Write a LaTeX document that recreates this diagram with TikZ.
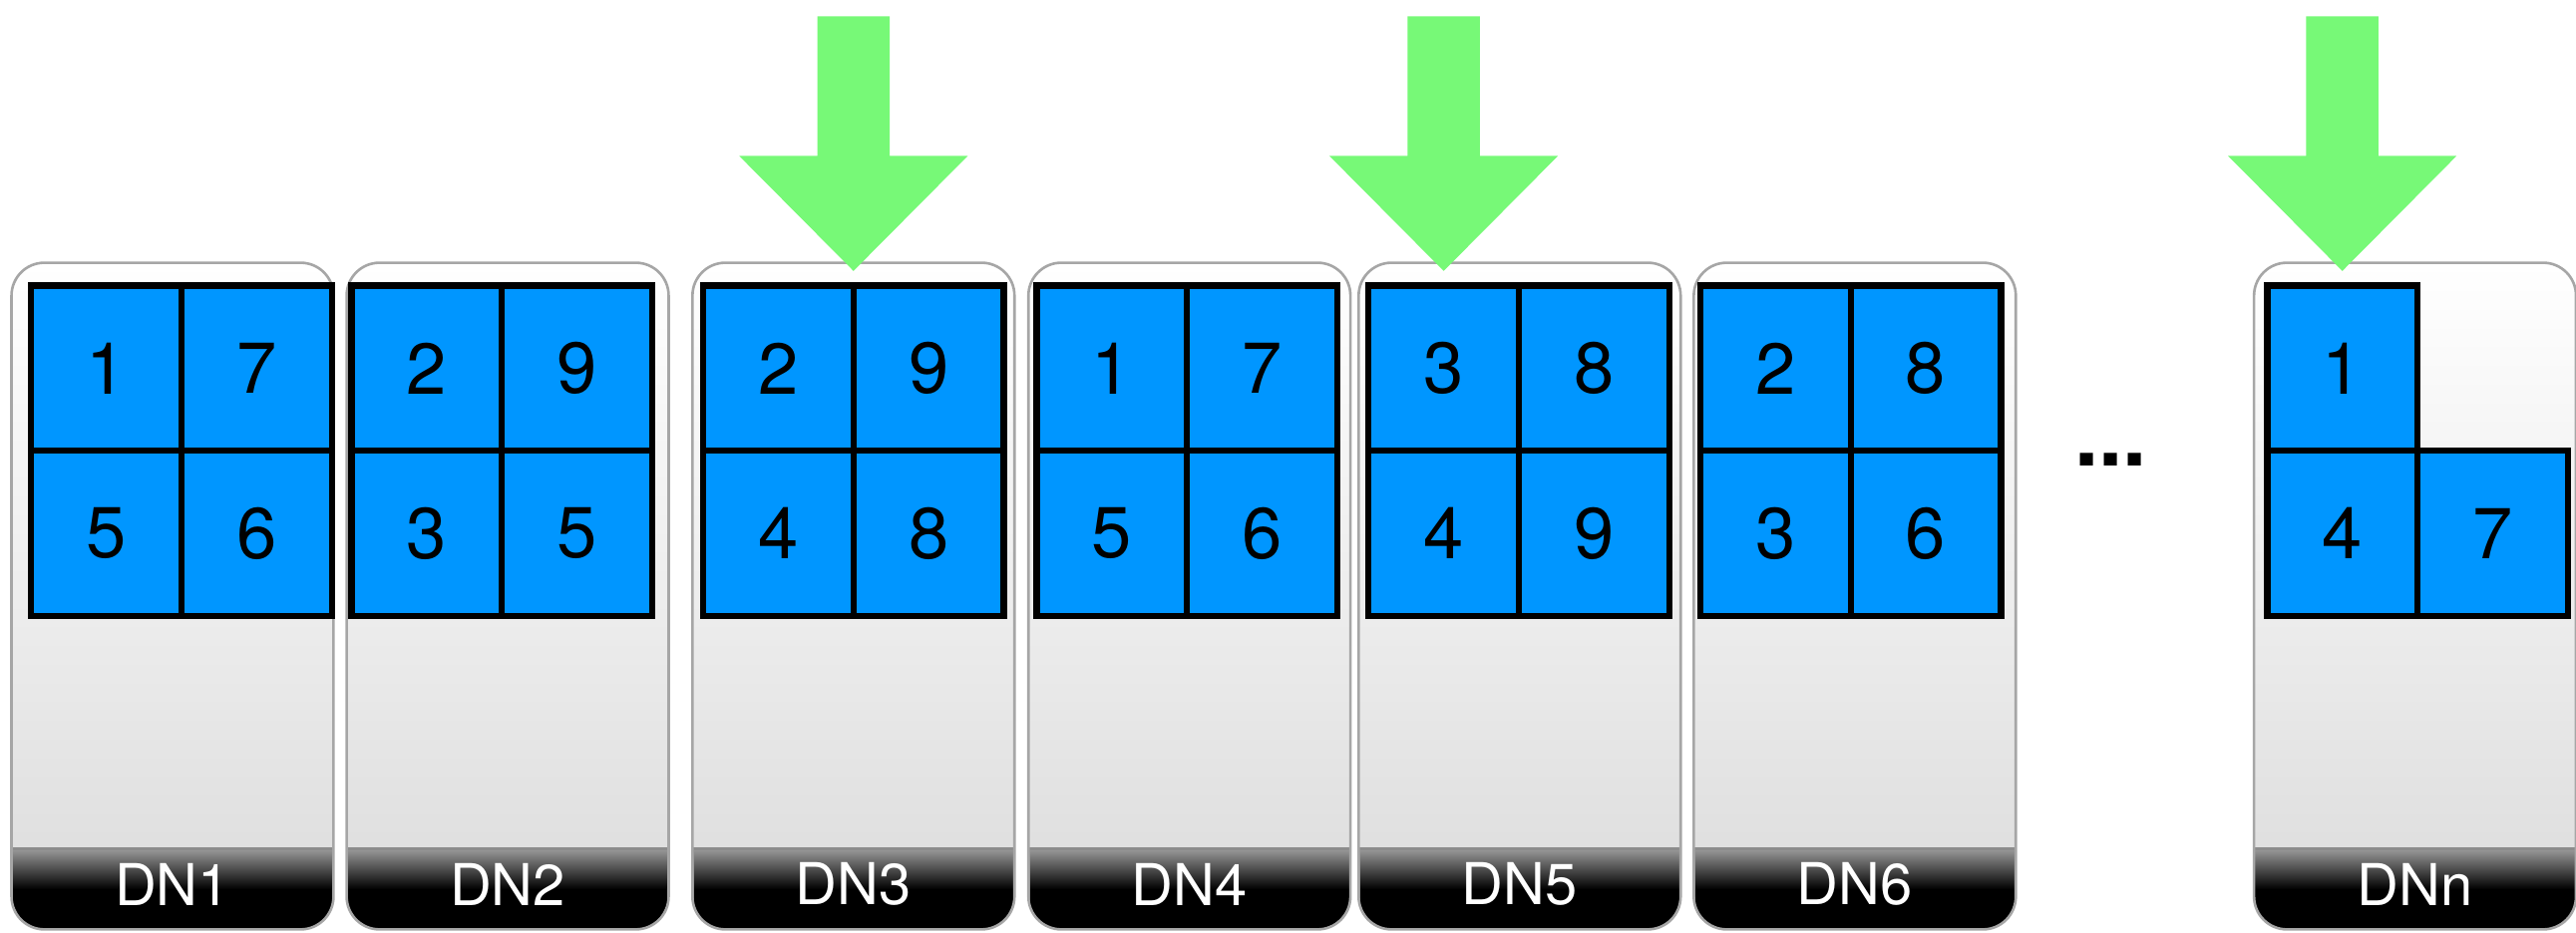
\documentclass[tikz,border=0pt]{standalone}
\usepackage{fontspec}
\setmainfont{TeX Gyre Heros}
\usepackage{xcolor}
\usepackage{tikz}
\usetikzlibrary{positioning,calc}

\definecolor{dnblue}{RGB}{0,150,255}
\definecolor{dngreen}{RGB}{119,249,119}

\begin{document}
\begin{tikzpicture}[
    panel/.style={rectangle, rounded corners=0.4cm, top color=white, bottom color=black!14, minimum width=3.92cm, minimum height=8.12cm, inner sep=0pt, outer sep=0pt, anchor=south west},
    frame/.style={draw=black!35, line width=0.9pt, rounded corners=0.4cm},
    bar/.style={top color=black!40, bottom color=black, middle color=black},
    dnlabel/.style={text=white, font=\fontsize{20}{20}\selectfont},
    block/.style={rectangle, draw=black, line width=2.2pt, fill=dnblue, minimum width=1.83cm, minimum height=2.01cm, inner sep=0pt, outer sep=0pt, font=\fontsize{25}{25}\selectfont},
    writearrow/.style={fill=dngreen}
]
\useasboundingbox (0,0) rectangle (31.36,11.36);
% DATA NODES with their label bars
\foreach \n/\x in {1/0.14, 2/4.22, 3/8.43, 4/12.52, 5/16.54, 6/20.62, n/27.44} {
    \node[panel] (dn\n) at (\x,0.04) {};
    \begin{scope}
        \clip[rounded corners=0.4cm] (dn\n.south west) rectangle (dn\n.north east);
        \shadedraw[bar, draw=black!45, line width=0.9pt] (dn\n.south west) rectangle ([yshift=0.98cm]dn\n.south east);
    \end{scope}
    \draw[frame] (dn\n.south west) rectangle (dn\n.north east);
    \node[dnlabel] (lbl\n) at ([yshift=0.55cm]dn\n.south) {DN\n};
}
% BLOCKS: 2x2 per data node
\foreach \n/\g/\a/\b/\c/\d in {1/0.38/1/7/5/6, 2/4.28/2/9/3/5, 3/8.56/2/9/4/8, 4/12.62/1/7/5/6, 5/16.66/3/8/4/9, 6/20.7/2/8/3/6} {
    \node[block, anchor=north west] (\n-a) at (\g,7.88) {\a};
    \node[block, right=0pt of \n-a] (\n-b) {\b};
    \node[block, below=0pt of \n-a] (\n-c) {\c};
    \node[block, right=0pt of \n-c] (\n-d) {\d};
}
% LAST DATA NODE: only three blocks
\node[block, anchor=north west] (n-a) at (27.6,7.88) {1};
\node[block, below=0pt of n-a] (n-c) {4};
\node[block, right=0pt of n-c] (n-d) {7};
\node[font=\fontsize{30}{30}\selectfont\bfseries, anchor=base] (more) at (25.7,5.68) {...};
% WRITE ARROWS
\coordinate (in3) at ([yshift=0.18cm]3-a.north east);
\coordinate (in5) at ([yshift=0.18cm]5-a.north);
\coordinate (inn) at ([yshift=0.18cm]n-a.north);
\foreach \t in {in3,in5,inn}
    \fill[writearrow] (\t) -- ++(-1.39,1.4) -- ++(0.95,0) -- ++(0,1.7) -- ++(0.88,0) -- ++(0,-1.7) -- ++(0.95,0) -- cycle;
\end{tikzpicture}
\end{document}
